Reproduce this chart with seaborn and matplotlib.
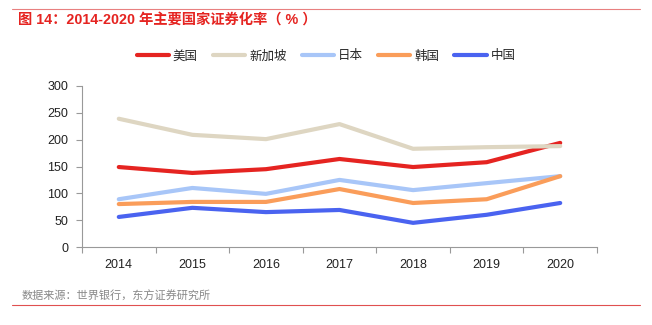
import matplotlib
matplotlib.use("Agg")
import matplotlib.pyplot as plt
import seaborn as sns
import pandas as pd
import numpy as np
from matplotlib.lines import Line2D

years = ["2014", "2015", "2016", "2017", "2018", "2019", "2020"]
countries = ["美国", "新加坡", "日本", "韩国", "中国"]
us = [149, 138, 145, 164, 149, 158, 194]
singapore = [239, 209, 201, 229, 183, 186, 188]
japan = [89, 110, 99, 125, 106, 119, 132]
korea = [80, 84, 84, 108, 82, 89, 132]
china = [56, 73, 65, 69, 45, 60, 82]
colors = ["#E52421", "#DED6C2", "#A8C6F8", "#FA9D5A", "#4A63F0"]

series = [us, singapore, japan, korea, china]
rows = []
for c, vals in zip(countries, series):
    for i, v in enumerate(vals):
        rows.append({"idx": i, "year": years[i], "country": c, "value": v})
df = pd.DataFrame(rows)

sns.set_theme(style="white")
plt.rcParams["font.family"] = ["Liberation Sans", "Noto Sans CJK SC", "DejaVu Sans"]

fig = plt.figure(figsize=(6.52, 3.25), dpi=100)
ax = fig.add_axes([82/652, 1-247/325, (597-82)/652, (247-86)/325])
sns.lineplot(data=df, x="idx", y="value", hue="country", hue_order=countries,
             palette=colors, linewidth=3.0, ax=ax, legend=False, sort=False)

ax.set_xlim(-0.5, 6.5)
ax.set_ylim(0, 300)
ax.set_yticks(np.arange(0, 301, 50))
ax.set_xticks(range(len(years)))
ax.set_xticklabels(years)
ax.set_xticks(np.arange(-0.5, 7, 1), minor=True)
ax.tick_params(axis="x", which="major", length=0, pad=9, labelsize=9, colors="#222222")
ax.tick_params(axis="x", which="minor", length=4, width=0.8, color="#999999", direction="out", bottom=True)
ax.tick_params(axis="y", which="major", length=4, width=0.8, color="#999999", direction="out", left=True,
               labelsize=9, labelcolor="#222222", pad=6)
ax.set_xlabel("")
ax.set_ylabel("")
for s in ["top", "right"]:
    ax.spines[s].set_visible(False)
for s in ["left", "bottom"]:
    ax.spines[s].set_color("#999999")
    ax.spines[s].set_linewidth(0.8)

handles = [Line2D([0], [0], color=col, lw=3.0) for col in colors]
fig.legend(handles, countries, loc="center", bbox_to_anchor=(0.5, 1-56/325), ncol=5,
           frameon=False, handlelength=2.6, columnspacing=1.2, handletextpad=0.3,
           prop={"family": ["Noto Sans CJK SC"], "size": 9})

fig.add_artist(Line2D([12/652, 640/652], [1-9/325, 1-9/325], color="#E88080", lw=0.8))
fig.add_artist(Line2D([12/652, 640/652], [1-305/325, 1-305/325], color="#E05050", lw=0.8))
fig.text(18/652, 1-20/325, "图 14：2014-2020 年主要国家证券化率（ % ）", color="#E52421",
         fontsize=10.3, va="center", ha="left", fontweight="bold")
fig.text(22/652, 1-296/325, "数据来源：世界银行，东方证券研究所", color="#888888",
         fontsize=8, va="center", ha="left", family=["Noto Sans CJK SC"])

fig.savefig("out.png", dpi=100)
